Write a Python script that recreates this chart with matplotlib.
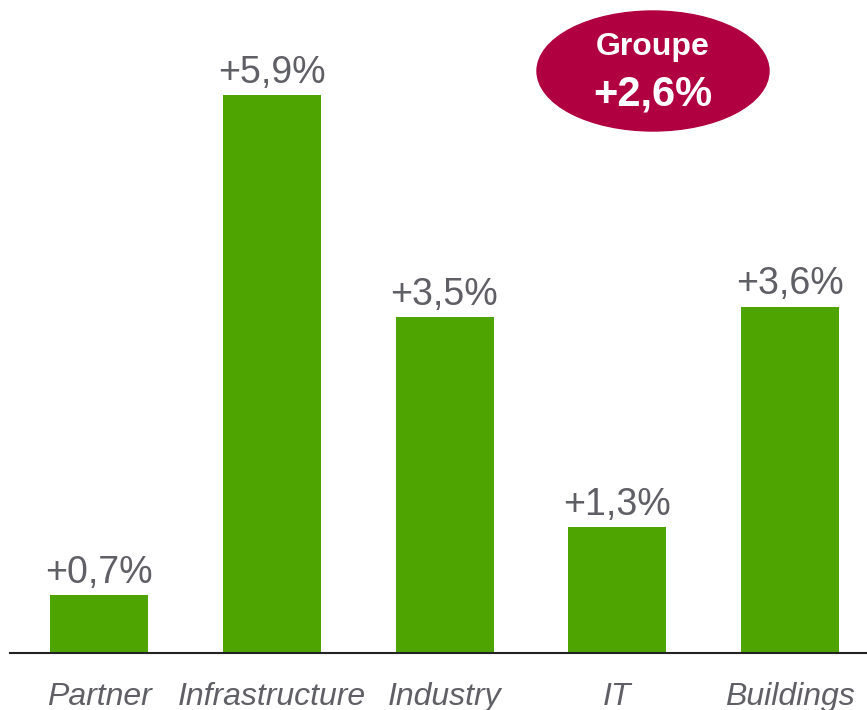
import matplotlib
matplotlib.use("Agg")
import matplotlib.pyplot as plt
from matplotlib.patches import Ellipse

categories = ["Partner", "Infrastructure", "Industry", "IT", "Buildings"]
values = [0.61, 5.9, 3.55, 1.33, 3.66]
value_labels = ["+0,7%", "+5,9%", "+3,5%", "+1,3%", "+3,6%"]
group_title = "Groupe"
group_value = "+2,6%"

W, H = 867, 710
fig = plt.figure(figsize=(W / 100, H / 100), dpi=100)
plt.rcParams['font.family'] = ['Liberation Sans', 'DejaVu Sans']

base_px = 652.5
ax = fig.add_axes([10 / W, (H - base_px) / H, 1 - 10 / W, base_px / H])
px_per_unit = 94.5
spacing = 172.75
ax.set_xlim((10 - 99) / spacing, (867 - 99) / spacing)
ax.set_ylim(0, base_px / px_per_unit)

green = "#4EA400"
gray = "#5F5F66"
x = list(range(len(categories)))
ax.bar(x, values, width=98 / spacing, color=green, zorder=2)

for xi, v, lab in zip(x, values, value_labels):
    ax.annotate(lab, (xi, v), xytext=(0, 3), textcoords="offset points",
                ha="center", va="bottom", fontsize=27, color=gray)

for s in ["top", "right", "left"]:
    ax.spines[s].set_visible(False)
ax.spines["bottom"].set_linewidth(1.5)
ax.spines["bottom"].set_color("#222222")
ax.set_yticks([])
ax.set_xticks(x)
ax.set_xticklabels(categories, fontsize=23, style="italic", color=gray)
ax.tick_params(axis="x", length=0, pad=21)

# Ellipse badge in figure pixel coordinates
ell_ax = fig.add_axes([0, 0, 1, 1], facecolor="none")
ell_ax.set_xlim(0, W)
ell_ax.set_ylim(H, 0)
ell_ax.axis("off")
ell_ax.add_patch(Ellipse((653, 71), 232, 120, color="#B0003F"))
ell_ax.text(653, 47, group_title, ha="center", va="center", fontsize=23,
            fontweight="bold", color="white")
ell_ax.text(653, 95, group_value, ha="center", va="center", fontsize=30,
            fontweight="bold", color="white")

fig.savefig("out.png", dpi=100)
